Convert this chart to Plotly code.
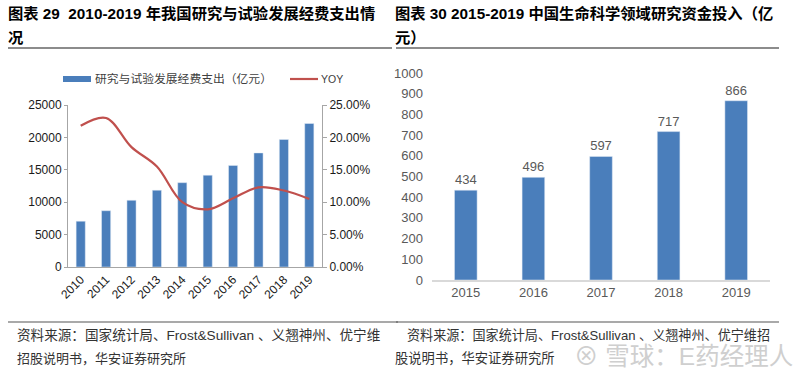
import plotly.graph_objects as go

# ---- data ----
years_left = ["2010", "2011", "2012", "2013", "2014", "2015", "2016", "2017", "2018", "2019"]
rd_spend = [7063, 8687, 10298, 11847, 13016, 14170, 15677, 17606, 19678, 22144]
yoy = [0.218, 0.230, 0.185, 0.155, 0.100, 0.089, 0.106, 0.123, 0.118, 0.105]

years_right = ["2015", "2016", "2017", "2018", "2019"]
life_sci = [434, 496, 597, 717, 866]

left_ticks = [0, 5000, 10000, 15000, 20000, 25000]
left_ticktext = ["0", "5000", "10000", "15000", "20000", "25000"]
right_pct_ticks = [0, 0.05, 0.10, 0.15, 0.20, 0.25]
right_ticks = [0, 100, 200, 300, 400, 500, 600, 700, 800, 900, 1000]

W, H = 800, 378
BLUE = "#4a7ebb"
RED = "#c0504d"
CJK = "Liberation Sans, Noto Sans CJK SC, sans-serif"

def px(x):
    return x / W

def py(y):
    return 1 - y / H

fig = go.Figure()

fig.add_trace(go.Bar(x=years_left, y=rd_spend, marker_color=BLUE, width=0.36,
                     xaxis="x", yaxis="y", showlegend=False))
fig.add_trace(go.Scatter(x=years_left, y=yoy, mode="lines",
                         line=dict(color=RED, width=2.2, shape="spline", smoothing=1.0),
                         xaxis="x", yaxis="y2", showlegend=False))
fig.add_trace(go.Bar(x=years_right, y=life_sci, marker_color=BLUE, width=0.335,
                     text=[str(v) for v in life_sci], textposition="outside",
                     textfont=dict(size=13, color="#595959", family="Liberation Sans"),
                     cliponaxis=False,
                     xaxis="x3", yaxis="y3", showlegend=False))

axis_font = dict(family="Liberation Sans", size=12, color="#1a1a1a")

fig.update_layout(
    width=W, height=H,
    margin=dict(l=0, r=0, t=0, b=0, pad=0),
    paper_bgcolor="white", plot_bgcolor="white",
    showlegend=False,
    xaxis=dict(domain=[px(68), px(322)], anchor="y", type="category",
               tickangle=-45, tickfont=axis_font, showline=True, linecolor="#a6a6a6",
               linewidth=1, ticks="", showgrid=False, automargin=False),
    yaxis=dict(domain=[py(267), py(105)], anchor="x", range=[0, 25000],
               tickvals=left_ticks, ticktext=left_ticktext, tickfont=axis_font, showline=True,
               linecolor="#a6a6a6", linewidth=1, ticks="outside", ticklen=3,
               tickcolor="#a6a6a6", showgrid=False, zeroline=False, automargin=False),
    yaxis2=dict(overlaying="y", side="right", anchor="x", range=[0, 0.25],
                tickvals=right_pct_ticks, tickformat=".2%", tickfont=axis_font,
                showline=True, linecolor="#a6a6a6", linewidth=1, ticks="outside",
                ticklen=4, tickcolor="#a6a6a6", showgrid=False, zeroline=False,
                automargin=False),
    xaxis3=dict(domain=[px(432), px(770)], anchor="y3", type="category",
                tickfont=dict(family="Liberation Sans", size=13, color="#595959"),
                showline=True, linecolor="#d9d9d9", linewidth=1.5, ticks="",
                showgrid=False, automargin=False),
    yaxis3=dict(domain=[py(280), py(73)], anchor="x3", range=[0, 1000],
                tickvals=right_ticks, ticklabelstandoff=8,
                tickfont=dict(family="Liberation Sans", size=13, color="#595959"),
                showline=False, showgrid=False, zeroline=False, ticks="",
                automargin=False),
)

shapes = []
shapes.append(dict(type="line", xref="paper", yref="paper", x0=px(8), x1=px(392),
                   y0=py(48), y1=py(48), line=dict(color="#1a1a1a", width=1.2)))
shapes.append(dict(type="line", xref="paper", yref="paper", x0=px(396), x1=px(779),
                   y0=py(48), y1=py(48), line=dict(color="#1a1a1a", width=1.2)))
shapes.append(dict(type="line", xref="paper", yref="paper", x0=px(8), x1=px(398),
                   y0=py(322), y1=py(322), line=dict(color="#555555", width=1.2)))
shapes.append(dict(type="line", xref="paper", yref="paper", x0=px(396), x1=px(779),
                   y0=py(322), y1=py(322), line=dict(color="#555555", width=1.2)))
shapes.append(dict(type="rect", xref="paper", yref="paper", x0=px(63), x1=px(91),
                   y0=py(82), y1=py(76), fillcolor=BLUE, line=dict(width=0)))
shapes.append(dict(type="line", xref="paper", yref="paper", x0=px(290), x1=px(318),
                   y0=py(79), y1=py(79), line=dict(color=RED, width=2.2)))
fig.update_layout(shapes=shapes)

ann = []
def text(x, y, s, size, color="#000000", bold=False, xanchor="left", family=CJK):
    ann.append(dict(xref="paper", yref="paper", x=px(x), y=py(y),
                    text=("<b>%s</b>" % s) if bold else s,
                    showarrow=False, xanchor=xanchor, yanchor="middle", borderpad=0,
                    font=dict(size=size, color=color, family=family)))

text(7, 14, "图表 29  2010-2019 年我国研究与试验发展经费支出情", 15.3, bold=True)
text(7, 38, "况", 15.3, bold=True)
text(394, 14, "图表 30 2015-2019 中国生命科学领域研究资金投入（亿", 15.3, bold=True)
text(394, 38, "元）", 15.3, bold=True)

text(94, 79, "研究与试验发展经费支出（亿元）", 11.8, color="#404040")
text(320, 79, "YOY", 10.5, color="#404040")

text(16, 335, "资料来源：国家统计局、Frost&Sullivan 、义翘神州、优宁维", 13.6, color="#333333")
text(16, 358, "招股说明书，华安证券研究所", 13, color="#333333")
text(406, 335, "资料来源：国家统计局、Frost&Sullivan 、义翘神州、优宁维招", 13.1, color="#333333")
text(394, 358, "股说明书，华安证券研究所", 13.3, color="#333333")

text(573, 356, "⊗ 雪球：E药经理人", 24.5, color="#cfcfcf")

fig.update_layout(annotations=ann)

fig.write_html("out.html", config={"displayModeBar": False},
               post_script="document.body.style.margin='0';")
